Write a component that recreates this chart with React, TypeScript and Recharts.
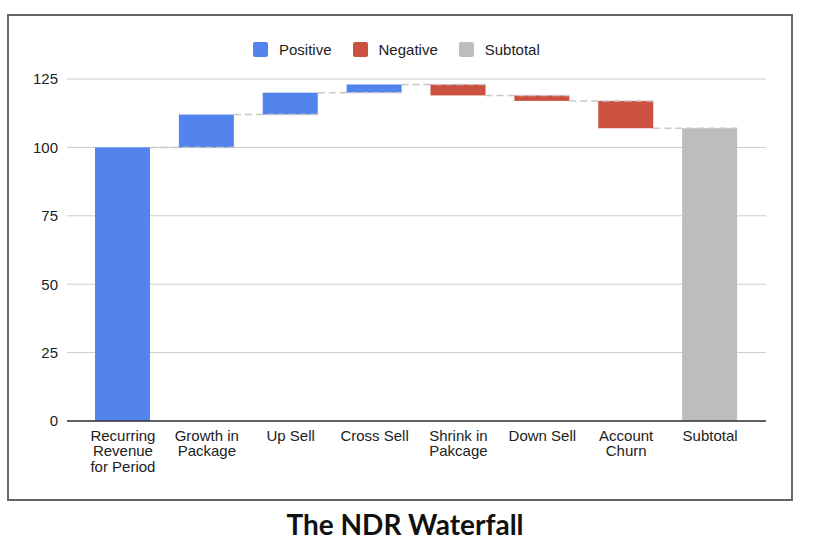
import { BarChart, Bar, XAxis, YAxis, CartesianGrid, Cell, Text } from "recharts";

const categories = [
  "Recurring Revenue for Period",
  "Growth in Package",
  "Up Sell",
  "Cross Sell",
  "Shrink in Pakcage",
  "Down Sell",
  "Account Churn",
  "Subtotal",
];
// change of each step; the subtotal has none of its own
const changes = [100, 12, 8, 3, -4, -2, -10, 0];
const kinds = ["Positive", "Positive", "Positive", "Positive", "Negative", "Negative", "Negative", "Subtotal"];
const yTicks = [0, 25, 50, 75, 100, 125];

const legendItems = ["Positive", "Negative", "Subtotal"];
const COLORS: Record<string, string> = {
  Positive: "#5383EC",
  Negative: "#CC5140",
  Subtotal: "#BDBDBD",
};

const W = 814;
const H = 500;
const MARGIN = { top: 79, right: 48, bottom: 49, left: 0 };
const Y_WIDTH = 67;
const PAD = 14;
const STEP = (W - MARGIN.left - MARGIN.right - Y_WIDTH - 2 * PAD) / categories.length;

let total = 0;
const data = categories.map((name, i) => {
  const start = total;
  if (kinds[i] === "Subtotal") {
    return { name, kind: kinds[i], range: [0, total], start: total };
  }
  total += changes[i];
  return {
    name,
    kind: kinds[i],
    range: [Math.min(start, total), Math.max(start, total)],
    start,
  };
});

const font = "'Liberation Sans', Arial, sans-serif";

function WaterfallBar(props: any) {
  const { x, y, width, height, payload, index } = props;
  const kind = payload.kind;
  // level where this step starts: bottom for a rise, top for a fall or subtotal
  const levelY = kind === "Positive" ? y + height : y;
  return (
    <g>
      <rect x={x} y={y} width={width} height={height} fill={COLORS[kind]} />
      {index > 0 && (
        <line
          x1={x + width - STEP}
          x2={x + width}
          y1={levelY}
          y2={levelY}
          stroke="#c8c8c8"
          strokeWidth={1.5}
          strokeDasharray="7 4"
        />
      )}
    </g>
  );
}

function CategoryTick(props: any) {
  const { x, y, payload } = props;
  return (
    <Text
      x={x}
      y={y}
      width={75}
      textAnchor="middle"
      verticalAnchor="start"
      lineHeight={15.5}
      fontSize={15}
      fontFamily={font}
      fill="#222"
    >
      {payload.value}
    </Text>
  );
}

export default function App() {
  return (
    <div style={{ position: "absolute", left: 0, top: 0, width: 814, height: 554, background: "#fff" }}>
      <div
        style={{
          position: "absolute",
          left: 7,
          top: 14,
          width: 786,
          height: 487,
          border: "2px solid #666",
          boxSizing: "border-box",
        }}
      />
      <div
        style={{
          position: "absolute",
          left: 253,
          top: 41,
          display: "flex",
          alignItems: "center",
          fontFamily: font,
          fontSize: 15,
          color: "#222",
        }}
      >
        {legendItems.map((k, i) => (
          <div key={k} style={{ display: "flex", alignItems: "center", marginLeft: i ? 21 : 0 }}>
            <span
              style={{
                display: "inline-block",
                width: 15,
                height: 15,
                borderRadius: 2,
                background: COLORS[k],
                marginRight: 11,
              }}
            />
            <span>{k}</span>
          </div>
        ))}
      </div>
      <div style={{ position: "absolute", left: 0, top: 0 }}>
        <BarChart width={W} height={H} data={data} margin={MARGIN}>
          <CartesianGrid vertical={false} stroke="#ccc" />
          <XAxis
            dataKey="name"
            interval={0}
            padding={{ left: PAD, right: PAD }}
            axisLine={{ stroke: "#333", strokeWidth: 1.5 }}
            tickLine={false}
            tickSize={0}
            tickMargin={9}
            height={30}
            tick={<CategoryTick />}
          />
          <YAxis
            width={Y_WIDTH}
            domain={[0, 125]}
            ticks={yTicks}
            axisLine={false}
            tickLine={false}
            tickSize={0}
            tickMargin={9}
            tick={{ fontSize: 15, fontFamily: font, fill: "#222" }}
          />
          <Bar dataKey="range" barSize={55} shape={<WaterfallBar />} isAnimationActive={false}>
            {data.map((d, i) => (
              <Cell key={`cell-${i}`} fill={COLORS[d.kind]} />
            ))}
          </Bar>
        </BarChart>
      </div>
      <div
        style={{
          position: "absolute",
          left: 0,
          top: 507,
          width: 810,
          textAlign: "center",
          fontFamily: "Lato, sans-serif",
          fontWeight: 700,
          fontSize: 28,
          color: "#111",
        }}
      >
        The NDR Waterfall
      </div>
    </div>
  );
}
